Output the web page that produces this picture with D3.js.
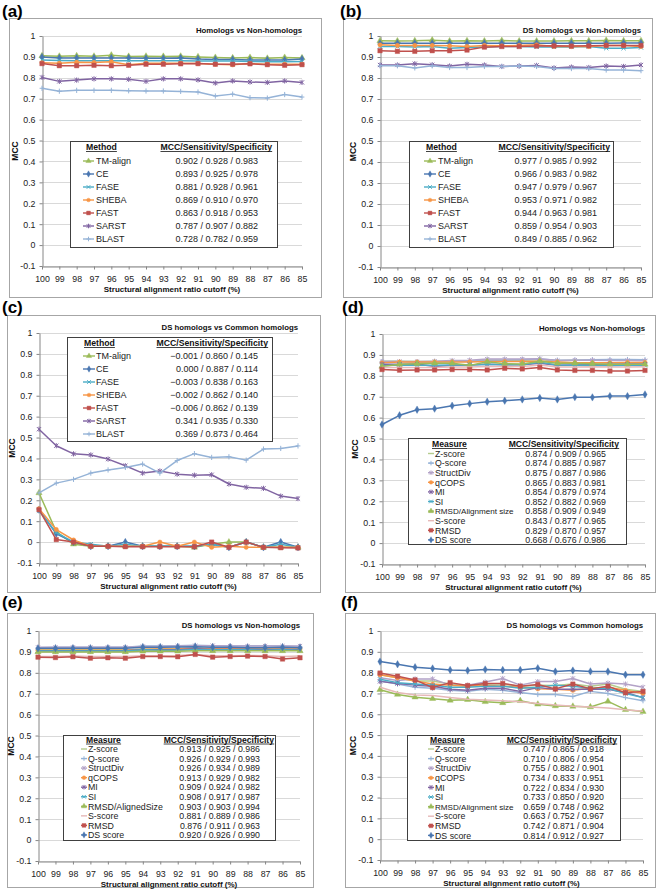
<!DOCTYPE html>
<html><head><meta charset="utf-8">
<script src="https://cdn.jsdelivr.net/npm/d3@7"></script>
<style>
body{margin:0;background:#fff}
svg{display:block}
text{font-family:"Liberation Sans",Arial,Helvetica,sans-serif}
</style>
</head><body>
<svg id="c" width="659" height="892"></svg>
<script>
// ---------------- DATA ----------------
const cutoffs = ["100","99","98","97","96","95","94","93","92","91","90","89","88","87","86","85"];
const yTicks = [-0.1,0,0.1,0.2,0.3,0.4,0.5,0.6,0.7,0.8,0.9,1];

const methods = ["TM-align","CE","FASE","SHEBA","FAST","SARST","BLAST"];
const measuresD = ["Z-score","Q-score","StructDiv","qCOPS","MI","SI","RMSD/Alignment size","S-score","RMSD","DS score"];
const measuresE = ["Z-score","Q-score","StructDiv","qCOPS","MI","SI","RMSD/AlignedSize","S-score","RMSD","DS score"];

// (a) Homologs vs Non-homologs (methods)
const mccA = [
  [0.905,0.903,0.905,0.903,0.908,0.902,0.903,0.902,0.903,0.900,0.897,0.895,0.897,0.893,0.897,0.895],
  [0.900,0.895,0.895,0.895,0.895,0.895,0.893,0.893,0.895,0.890,0.888,0.888,0.885,0.885,0.885,0.890],
  [0.885,0.883,0.882,0.882,0.882,0.882,0.882,0.882,0.882,0.880,0.880,0.880,0.878,0.877,0.877,0.878],
  [0.872,0.870,0.875,0.873,0.877,0.862,0.870,0.870,0.870,0.868,0.865,0.862,0.868,0.865,0.865,0.865],
  [0.868,0.858,0.858,0.860,0.858,0.860,0.865,0.865,0.867,0.868,0.865,0.865,0.867,0.863,0.860,0.863],
  [0.802,0.783,0.789,0.795,0.795,0.793,0.783,0.795,0.795,0.790,0.775,0.785,0.780,0.778,0.785,0.778],
  [0.750,0.736,0.740,0.740,0.740,0.738,0.737,0.737,0.735,0.732,0.713,0.722,0.705,0.703,0.720,0.708]
];
const statsA = ["0.902 / 0.928 / 0.983","0.893 / 0.925 / 0.978","0.881 / 0.928 / 0.961","0.869 / 0.910 / 0.970","0.863 / 0.918 / 0.953","0.787 / 0.907 / 0.882","0.728 / 0.782 / 0.959"];

// (b) DS homologs vs Non-homologs (methods)
const mccB = [
  [0.977,0.976,0.977,0.980,0.976,0.977,0.976,0.978,0.976,0.976,0.976,0.977,0.977,0.979,0.977,0.977],
  [0.965,0.966,0.966,0.966,0.966,0.966,0.966,0.966,0.966,0.966,0.966,0.966,0.966,0.966,0.967,0.967],
  [0.950,0.950,0.948,0.950,0.942,0.945,0.948,0.950,0.950,0.948,0.948,0.948,0.950,0.942,0.942,0.945],
  [0.958,0.955,0.955,0.955,0.953,0.950,0.955,0.953,0.955,0.958,0.950,0.950,0.950,0.955,0.955,0.950],
  [0.930,0.927,0.927,0.930,0.930,0.933,0.947,0.950,0.950,0.952,0.953,0.952,0.953,0.955,0.955,0.955],
  [0.862,0.862,0.868,0.863,0.857,0.865,0.862,0.855,0.857,0.860,0.848,0.852,0.850,0.857,0.855,0.862],
  [0.858,0.858,0.848,0.858,0.850,0.850,0.855,0.855,0.857,0.855,0.845,0.845,0.845,0.838,0.838,0.835]
];
const statsB = ["0.977 / 0.985 / 0.992","0.966 / 0.983 / 0.982","0.947 / 0.979 / 0.967","0.953 / 0.971 / 0.982","0.944 / 0.963 / 0.981","0.859 / 0.954 / 0.903","0.849 / 0.885 / 0.962"];

// (c) DS homologs vs Common homologs (methods)
const mccC = [
  [0.235,0.050,-0.010,-0.020,-0.020,-0.020,-0.020,-0.020,-0.020,-0.025,-0.010,0.000,0.000,-0.025,-0.025,-0.025],
  [0.155,0.040,0.000,-0.020,-0.020,0.000,-0.020,-0.020,-0.020,-0.020,-0.010,-0.025,0.000,-0.025,0.000,-0.025],
  [0.150,0.045,0.000,-0.010,-0.020,-0.010,-0.020,-0.020,-0.020,-0.020,-0.010,-0.025,0.000,-0.025,-0.010,-0.025],
  [0.160,0.060,0.010,-0.020,-0.020,-0.020,-0.020,0.000,-0.020,0.000,-0.025,-0.020,-0.025,-0.025,-0.025,-0.025],
  [0.155,0.012,0.000,-0.020,-0.020,-0.022,-0.022,-0.022,-0.022,-0.022,0.000,-0.025,0.000,-0.025,-0.027,-0.028],
  [0.540,0.461,0.422,0.417,0.397,0.365,0.330,0.340,0.325,0.320,0.322,0.278,0.262,0.257,0.220,0.208],
  [0.235,0.282,0.300,0.330,0.345,0.357,0.373,0.330,0.390,0.423,0.405,0.408,0.392,0.445,0.448,0.460]
];
const statsC = ["\u22120.001 / 0.860 / 0.145","0.000 / 0.887 / 0.114","\u22120.003 / 0.838 / 0.163","\u22120.002 / 0.862 / 0.140","\u22120.006 / 0.862 / 0.139","0.341 / 0.935 / 0.330","0.369 / 0.873 / 0.464"];

// (d) Homologs vs Non-homologs (measures)
const mccD = [
  [0.870,0.870,0.868,0.868,0.870,0.870,0.875,0.875,0.875,0.877,0.872,0.875,0.875,0.877,0.877,0.877],
  [0.868,0.868,0.865,0.866,0.868,0.870,0.875,0.875,0.877,0.880,0.875,0.875,0.877,0.878,0.878,0.877],
  [0.868,0.868,0.868,0.870,0.873,0.875,0.880,0.880,0.880,0.882,0.873,0.875,0.875,0.873,0.873,0.872],
  [0.862,0.866,0.866,0.866,0.866,0.866,0.868,0.868,0.868,0.870,0.866,0.862,0.862,0.862,0.864,0.864],
  [0.855,0.855,0.857,0.845,0.850,0.852,0.855,0.853,0.853,0.860,0.850,0.852,0.853,0.855,0.856,0.856],
  [0.848,0.852,0.850,0.850,0.852,0.852,0.855,0.853,0.853,0.865,0.852,0.850,0.850,0.848,0.850,0.850],
  [0.845,0.855,0.858,0.860,0.860,0.850,0.867,0.858,0.857,0.870,0.860,0.860,0.858,0.855,0.855,0.855],
  [0.840,0.840,0.840,0.840,0.842,0.842,0.845,0.845,0.845,0.852,0.842,0.842,0.843,0.842,0.842,0.843],
  [0.830,0.827,0.828,0.828,0.830,0.830,0.828,0.836,0.833,0.840,0.828,0.826,0.826,0.823,0.823,0.826],
  [0.567,0.611,0.638,0.643,0.657,0.667,0.676,0.681,0.687,0.694,0.687,0.698,0.697,0.703,0.703,0.711]
];
const statsD = ["0.874 / 0.909 / 0.965","0.874 / 0.885 / 0.987","0.875 / 0.887 / 0.986","0.865 / 0.883 / 0.981","0.854 / 0.879 / 0.974","0.852 / 0.882 / 0.969","0.858 / 0.909 / 0.949","0.843 / 0.877 / 0.965","0.829 / 0.870 / 0.957","0.668 / 0.676 / 0.986"];

// (e) DS homologs vs Non-homologs (measures)
const mccE = [
  [0.910,0.910,0.910,0.910,0.910,0.910,0.913,0.914,0.915,0.918,0.915,0.915,0.914,0.914,0.914,0.914],
  [0.920,0.922,0.922,0.922,0.922,0.922,0.928,0.928,0.930,0.932,0.930,0.928,0.928,0.928,0.928,0.925],
  [0.922,0.922,0.922,0.922,0.922,0.922,0.926,0.926,0.928,0.930,0.930,0.928,0.928,0.928,0.928,0.928],
  [0.908,0.908,0.908,0.908,0.908,0.908,0.913,0.914,0.915,0.918,0.915,0.915,0.914,0.914,0.914,0.914],
  [0.905,0.905,0.905,0.905,0.905,0.905,0.910,0.910,0.910,0.915,0.912,0.912,0.912,0.910,0.912,0.910],
  [0.904,0.904,0.904,0.904,0.904,0.904,0.910,0.908,0.908,0.912,0.910,0.910,0.910,0.908,0.910,0.908],
  [0.900,0.900,0.900,0.900,0.900,0.900,0.903,0.903,0.903,0.906,0.905,0.905,0.905,0.905,0.905,0.905],
  [0.878,0.878,0.880,0.878,0.878,0.878,0.882,0.882,0.883,0.888,0.882,0.882,0.883,0.882,0.878,0.880],
  [0.875,0.873,0.877,0.870,0.872,0.870,0.878,0.878,0.877,0.888,0.875,0.878,0.880,0.878,0.866,0.872],
  [0.917,0.917,0.917,0.917,0.917,0.917,0.922,0.922,0.923,0.925,0.922,0.922,0.920,0.920,0.922,0.920]
];
const statsE = ["0.913 / 0.925 / 0.986","0.926 / 0.929 / 0.993","0.926 / 0.934 / 0.989","0.913 / 0.929 / 0.982","0.909 / 0.924 / 0.982","0.908 / 0.917 / 0.987","0.903 / 0.903 / 0.994","0.881 / 0.889 / 0.986","0.876 / 0.911 / 0.963","0.920 / 0.926 / 0.990"];

// (f) DS homologs vs Common homologs (measures)
const mccF = [
  [0.790,0.775,0.760,0.760,0.745,0.738,0.745,0.745,0.735,0.740,0.738,0.745,0.735,0.745,0.720,0.710],
  [0.760,0.745,0.730,0.725,0.715,0.710,0.720,0.715,0.705,0.695,0.695,0.685,0.710,0.700,0.680,0.665],
  [0.775,0.762,0.770,0.770,0.740,0.740,0.755,0.772,0.740,0.757,0.757,0.772,0.745,0.750,0.745,0.730],
  [0.790,0.775,0.760,0.745,0.740,0.735,0.740,0.735,0.730,0.722,0.720,0.715,0.725,0.730,0.715,0.700],
  [0.758,0.748,0.740,0.735,0.720,0.715,0.725,0.725,0.710,0.728,0.720,0.720,0.720,0.720,0.705,0.680],
  [0.768,0.752,0.745,0.740,0.730,0.730,0.735,0.735,0.725,0.730,0.740,0.735,0.725,0.725,0.700,0.680],
  [0.718,0.695,0.682,0.675,0.667,0.670,0.660,0.655,0.665,0.648,0.640,0.638,0.635,0.662,0.622,0.613],
  [0.730,0.705,0.693,0.690,0.680,0.672,0.668,0.665,0.660,0.652,0.645,0.638,0.635,0.630,0.622,0.615],
  [0.798,0.783,0.765,0.728,0.752,0.738,0.748,0.748,0.735,0.743,0.722,0.745,0.722,0.735,0.703,0.710],
  [0.853,0.840,0.826,0.820,0.813,0.810,0.815,0.813,0.813,0.821,0.805,0.810,0.806,0.805,0.790,0.790]
];
const statsF = ["0.747 / 0.865 / 0.918","0.710 / 0.806 / 0.954","0.755 / 0.882 / 0.901","0.734 / 0.833 / 0.951","0.722 / 0.834 / 0.930","0.733 / 0.850 / 0.920","0.659 / 0.748 / 0.962","0.663 / 0.752 / 0.967","0.742 / 0.871 / 0.904","0.814 / 0.912 / 0.927"];

// ---------------- STYLES ----------------
const methodColors  = ["#9BBB59","#4A76B0","#4BACC6","#F79646","#C0504D","#8064A2","#95B3D7"];
const methodMarkers = ["triangle","diamond","x","circle","square","star","plus"];
const measureColors  = ["#B5CC8E","#95B3D7","#B3A2C7","#F79646","#8064A2","#4BACC6","#9BBB59","#E6B9B8","#C0504D","#4A76B0"];
const measureMarkers = ["none","plus","star","circle","star","x","triangle","none","square","diamond"];

// ---------------- LAYOUT ----------------
const panels = [
  {label:"(a)", lx:2, ly:17, box:[9,18,321,297], x0:42, x1:302, yt:36, yb:266,
   title:"Homologs vs Non-homologs", names:methods, data:mccA, stats:statsA,
   colors:methodColors, markers:methodMarkers, head:"Method",
   leg:{x:70,y:141,w:207,h:106,hy:147,ry:161,dy:13,hx:86,l0:83,l1:94,tx:96,vx:258,h2x:272,fs:9,hfs:8.7}},
  {label:"(b)", lx:340, ly:17, box:[343,18,652,297], x0:380, x1:641, yt:36, yb:267,
   title:"DS homologs vs Non-homologs", names:methods, data:mccB, stats:statsB,
   colors:methodColors, markers:methodMarkers, head:"Method",
   leg:{x:409,y:141,w:204,h:106,hy:147,ry:161,dy:13,hx:426,l0:424,l1:436,tx:438,vx:597,h2x:610,fs:9,hfs:8.7}},
  {label:"(c)", lx:2, ly:313, box:[7,315,320,592], x0:39, x1:298, yt:333, yb:563,
   title:"DS homologs vs Common homologs", names:methods, data:mccC, stats:statsC,
   colors:methodColors, markers:methodMarkers, head:"Method",
   leg:{x:67,y:337,w:205,h:104,hy:343,ry:356,dy:13,hx:84,l0:83,l1:95,tx:96,vx:258,h2x:268,fs:9,hfs:8.7}},
  {label:"(d)", lx:342, ly:313, box:[345,315,655,592], x0:382, x1:645, yt:334, yb:564,
   title:"Homologs vs Non-homologs", names:measuresD, data:mccD, stats:statsD,
   colors:measureColors, markers:measureMarkers, head:"Measure",
   leg:{x:408,y:438,w:218,h:106,hy:444,ry:453.5,dy:9.6,hx:432,l0:428,l1:434,tx:435,vx:606,h2x:619,fs:8.8,hfs:8.6}},
  {label:"(e)", lx:2, ly:608, box:[7,613,313,887], x0:38, x1:300, yt:631, yb:861,
   title:"DS homologs vs Non-homologs", names:measuresE, data:mccE, stats:statsE,
   colors:measureColors, markers:measureMarkers, head:"Measure",
   leg:{x:63,y:735,w:212,h:105,hy:739.5,ry:749,dy:9.55,hx:86,l0:81,l1:87,tx:88,vx:260,h2x:274,fs:8.8,hfs:8.6}},
  {label:"(f)", lx:341, ly:608, box:[345,613,655,887], x0:380, x1:643, yt:631, yb:860,
   title:"DS homologs vs Common homologs", names:measuresD, data:mccF, stats:statsF,
   colors:measureColors, markers:measureMarkers, head:"Measure",
   leg:{x:407,y:735,w:213,h:105,hy:739.5,ry:749,dy:9.6,hx:430,l0:428,l1:434,tx:435,vx:604,h2x:617,fs:8.8,hfs:8.6}}
];

// ---------------- DRAW ----------------
const svg = d3.select("#c");
svg.append("rect").attr("width",659).attr("height",892).attr("fill","#fff");

const symSizes = {triangle:17, diamond:16, square:20, circle:15};
const symTypes = {triangle:d3.symbolTriangle, diamond:d3.symbolDiamond, square:d3.symbolSquare, circle:d3.symbolCircle};

function drawMarker(sel, type, color, scale) {
  const k = scale || 1;
  if (type === "none") return;
  if (symTypes[type]) {
    sel.append("path")
      .attr("d", d3.symbol().type(symTypes[type]).size(symSizes[type] * k * k)())
      .attr("fill", color).attr("stroke", color).attr("stroke-width", 0.4);
  } else {
    const r = 2.1 * k;
    let d = "";
    if (type === "x" || type === "star") d += `M${-r},${-r}L${r},${r}M${-r},${r}L${r},${-r}`;
    if (type === "star") d += `M0,${-r-0.5}L0,${r+0.5}`;
    if (type === "plus") d += `M${-r-0.3},0L${r+0.3},0M0,${-r-0.5}L0,${r+0.5}`;
    sel.append("path").attr("d", d).attr("stroke", color)
      .attr("stroke-width", 1).attr("fill", "none");
  }
}

const fmtY = d => String(Math.round(d * 10) / 10);

panels.forEach(p => {
  const g = svg.append("g");
  // panel border
  g.append("rect")
    .attr("x", p.box[0] + 0.5).attr("y", p.box[1] + 0.5)
    .attr("width", p.box[2] - p.box[0]).attr("height", p.box[3] - p.box[1])
    .attr("fill", "#fff").attr("stroke", "#a6a6a6").attr("stroke-width", 1);
  // panel label
  g.append("text").attr("x", p.lx).attr("y", p.ly)
    .attr("font-size", 17).attr("font-weight", "bold").attr("fill", "#000").text(p.label);

  const x = d3.scalePoint().domain(cutoffs).range([p.x0, p.x1]);
  const y = d3.scaleLinear().domain([-0.1, 1]).range([p.yb, p.yt]);

  // gridlines
  g.append("g").selectAll("line").data(yTicks).join("line")
    .attr("x1", p.x0).attr("x2", p.x1)
    .attr("y1", d => Math.round(y(d)) + 0.5).attr("y2", d => Math.round(y(d)) + 0.5)
    .attr("stroke", "#d9d9d9").attr("stroke-width", 1);

  // y axis
  const ya = g.append("g").attr("transform", `translate(${p.x0 + 0.5},0)`)
    .call(d3.axisLeft(y).tickValues(yTicks).tickFormat(fmtY).tickSize(3).tickSizeOuter(0).tickPadding(4));
  // x axis
  const xa = g.append("g").attr("transform", `translate(0,${Math.round(p.yb) + 0.5})`)
    .call(d3.axisBottom(x).tickSize(3).tickSizeOuter(0).tickPadding(6));
  [ya, xa].forEach(a => {
    a.select(".domain").attr("stroke", "#868686");
    a.selectAll(".tick line").attr("stroke", "#868686");
    a.selectAll(".tick text").attr("font-size", 8.8).attr("fill", "#222")
      .attr("font-family", '"Liberation Sans",Arial,sans-serif');
  });

  // axis titles
  g.append("text").attr("x", (p.x0 + p.x1) / 2).attr("y", p.yb + 26)
    .attr("text-anchor", "middle").attr("font-size", 8).attr("font-weight", "bold").attr("fill", "#111")
    .text("Structural alignment ratio cutoff (%)");
  g.append("text")
    .attr("transform", `translate(${p.x0 - 24},${(p.yt + p.yb) / 2}) rotate(-90)`)
    .attr("text-anchor", "middle").attr("font-size", 8.5).attr("font-weight", "bold").attr("fill", "#111")
    .text("MCC");
  // chart title
  g.append("text").attr("x", p.x1).attr("y", p.yt - 3)
    .attr("text-anchor", "end").attr("font-size", 7.8).attr("font-weight", "bold").attr("fill", "#111")
    .text(p.title);

  // series
  const line = d3.line().x((d, i) => x(cutoffs[i])).y(d => y(d));
  p.data.forEach((vals, si) => {
    const col = p.colors[si];
    g.append("path").datum(vals).attr("d", line)
      .attr("fill", "none").attr("stroke", col).attr("stroke-width", 1.5)
      .attr("stroke-linejoin", "round");
    g.append("g").selectAll("g").data(vals).join("g")
      .attr("transform", (d, i) => `translate(${x(cutoffs[i])},${y(d)})`)
      .each(function () { drawMarker(d3.select(this), p.markers[si], col); });
  });

  // legend
  const L = p.leg;
  const lg = g.append("g");
  lg.append("rect").attr("x", L.x + 0.5).attr("y", L.y + 0.5).attr("width", L.w).attr("height", L.h)
    .attr("fill", "#fff").attr("stroke", "#404040").attr("stroke-width", 1);
  const h1 = lg.append("text").attr("x", L.hx).attr("y", L.hy + 3)
    .attr("font-size", L.hfs).attr("font-weight", "bold").attr("fill", "#111").text(p.head);
  const h2 = lg.append("text").attr("x", L.h2x).attr("y", L.hy + 3).attr("text-anchor", "end")
    .attr("font-size", L.hfs).attr("font-weight", "bold").attr("fill", "#111").text("MCC/Sensitivity/Specificity");
  [h1, h2].forEach(t => {
    const bb = t.node().getBBox();
    lg.append("line").attr("x1", bb.x).attr("x2", bb.x + bb.width)
      .attr("y1", L.hy + 4.5).attr("y2", L.hy + 4.5).attr("stroke", "#111").attr("stroke-width", 0.8);
  });
  p.names.forEach((nm, i) => {
    const cy = L.ry + i * L.dy;
    const col = p.colors[i];
    lg.append("line").attr("x1", L.l0).attr("x2", L.l1).attr("y1", cy).attr("y2", cy)
      .attr("stroke", col).attr("stroke-width", 1.4);
    drawMarker(lg.append("g").attr("transform", `translate(${(L.l0 + L.l1) / 2},${cy})`), p.markers[i], col, 0.85);
    const fs = nm === "RMSD/Alignment size" ? L.fs * 0.92 : L.fs;
    lg.append("text").attr("x", L.tx).attr("y", cy + 3.2).attr("font-size", fs).attr("fill", "#222").text(nm);
    lg.append("text").attr("x", L.vx).attr("y", cy + 3.2).attr("text-anchor", "end")
      .attr("font-size", L.fs).attr("fill", "#222").text(p.stats[i]);
  });
});
</script>
</body></html>
